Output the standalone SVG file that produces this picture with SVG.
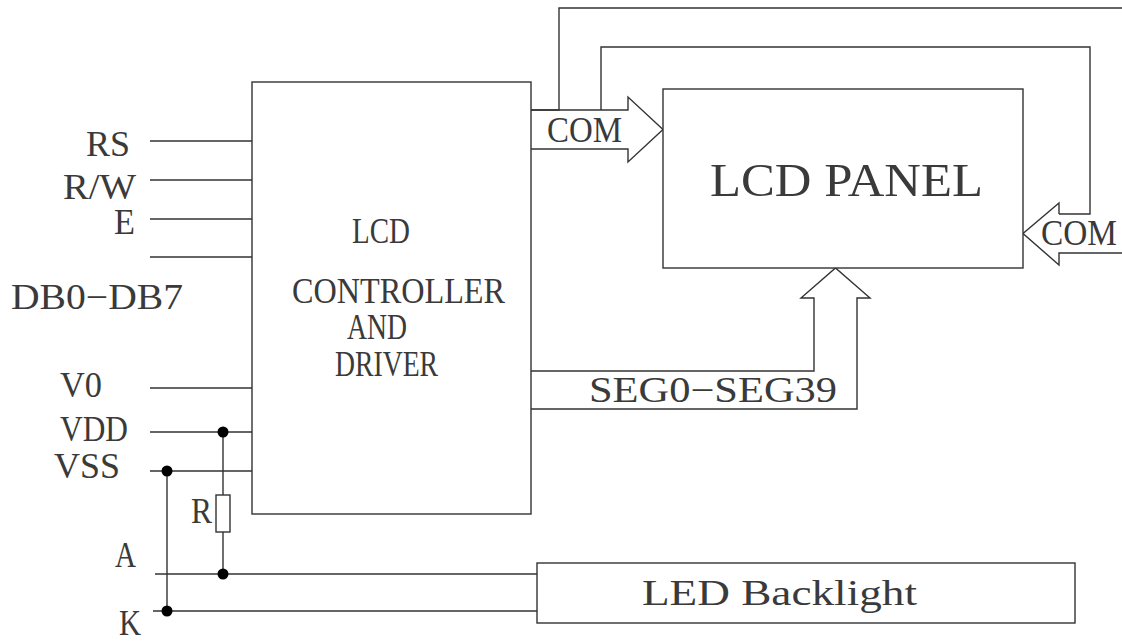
<svg xmlns="http://www.w3.org/2000/svg" width="1122" height="641" viewBox="0 0 1122 641">
<style>
.w{fill:none;stroke:#333;stroke-width:1.4;stroke-linejoin:miter}
.b{fill:#fff;stroke:#333;stroke-width:1.4}
.t{font-family:"Liberation Serif",serif;font-size:35px;fill:#3a3a3a}
.tl{font-family:"Liberation Serif",serif;font-size:47px;fill:#3a3a3a}
.d{fill:#000}
</style>
<rect width="1122" height="641" fill="#fff"/>
<g id="connectors">
<path class="w" d="M150 141H252M150 180H252M150 219H252M150 257H252M150 388H252M150 432H252M150 471H252"/>
<path class="w" d="M531 110H559V8H1122"/>
<path class="w" d="M601 110V47H1090V214H1059"/>
<path class="w" d="M531 110H628V97L663 129.5L628 162V149H531"/>
<path class="w" d="M1059 214V203L1023 233.5L1059 265V253H1122"/>
<path class="w" d="M531 371H814V298H801L835.5 268L870 298H857V409H531"/>
<path class="w" d="M155 574H537M153 611H537"/>
<path class="w" d="M167 471V611"/>
<path class="w" d="M223 432V495M223 532V574"/>
<circle class="d" cx="223" cy="432" r="5.5"/>
<circle class="d" cx="167" cy="471" r="5.5"/>
<circle class="d" cx="223" cy="574" r="5.5"/>
<circle class="d" cx="167" cy="611" r="5.5"/>
</g>
<g id="controller">
<rect class="b" x="252" y="82" width="279" height="432"/>
<text class="t" x="352" y="243" textLength="58" lengthAdjust="spacingAndGlyphs">LCD</text>
<text class="t" x="292" y="303" textLength="213" lengthAdjust="spacingAndGlyphs">CONTROLLER</text>
<text class="t" x="347" y="339" textLength="60" lengthAdjust="spacingAndGlyphs">AND</text>
<text class="t" x="335" y="376" textLength="103" lengthAdjust="spacingAndGlyphs">DRIVER</text>
</g>
<g id="lcd-panel">
<rect class="b" x="663" y="89" width="360" height="179"/>
<text class="tl" x="710" y="196" textLength="273" lengthAdjust="spacingAndGlyphs">LCD  PANEL</text>
</g>
<g id="led-backlight">
<rect class="b" x="537" y="563" width="538" height="60"/>
<text class="t" x="642" y="605" textLength="275" lengthAdjust="spacingAndGlyphs">LED  Backlight</text>
</g>
<g id="resistor">
<rect class="b" x="216" y="495" width="14" height="37"/>
<text class="t" x="191" y="523" textLength="21" lengthAdjust="spacingAndGlyphs">R</text>
</g>
<g id="labels">
<text class="t" x="86" y="156" textLength="44" lengthAdjust="spacingAndGlyphs">RS</text>
<text class="t" x="63" y="199" textLength="73" lengthAdjust="spacingAndGlyphs">R/W</text>
<text class="t" x="114" y="234" textLength="21" lengthAdjust="spacingAndGlyphs">E</text>
<text class="t" x="11" y="309" textLength="172" lengthAdjust="spacingAndGlyphs">DB0−DB7</text>
<text class="t" x="60" y="397" textLength="42" lengthAdjust="spacingAndGlyphs">V0</text>
<text class="t" x="60" y="441" textLength="68" lengthAdjust="spacingAndGlyphs">VDD</text>
<text class="t" x="54" y="478" textLength="66" lengthAdjust="spacingAndGlyphs">VSS</text>
<text class="t" x="115" y="567" textLength="21" lengthAdjust="spacingAndGlyphs">A</text>
<text class="t" x="119" y="635" textLength="22" lengthAdjust="spacingAndGlyphs">K</text>
<text class="t" x="547" y="142" textLength="75" lengthAdjust="spacingAndGlyphs">COM</text>
<text class="t" x="1041" y="245" textLength="76" lengthAdjust="spacingAndGlyphs">COM</text>
<text class="t" x="589" y="402" textLength="248" lengthAdjust="spacingAndGlyphs">SEG0−SEG39</text>
</g>
</svg>
